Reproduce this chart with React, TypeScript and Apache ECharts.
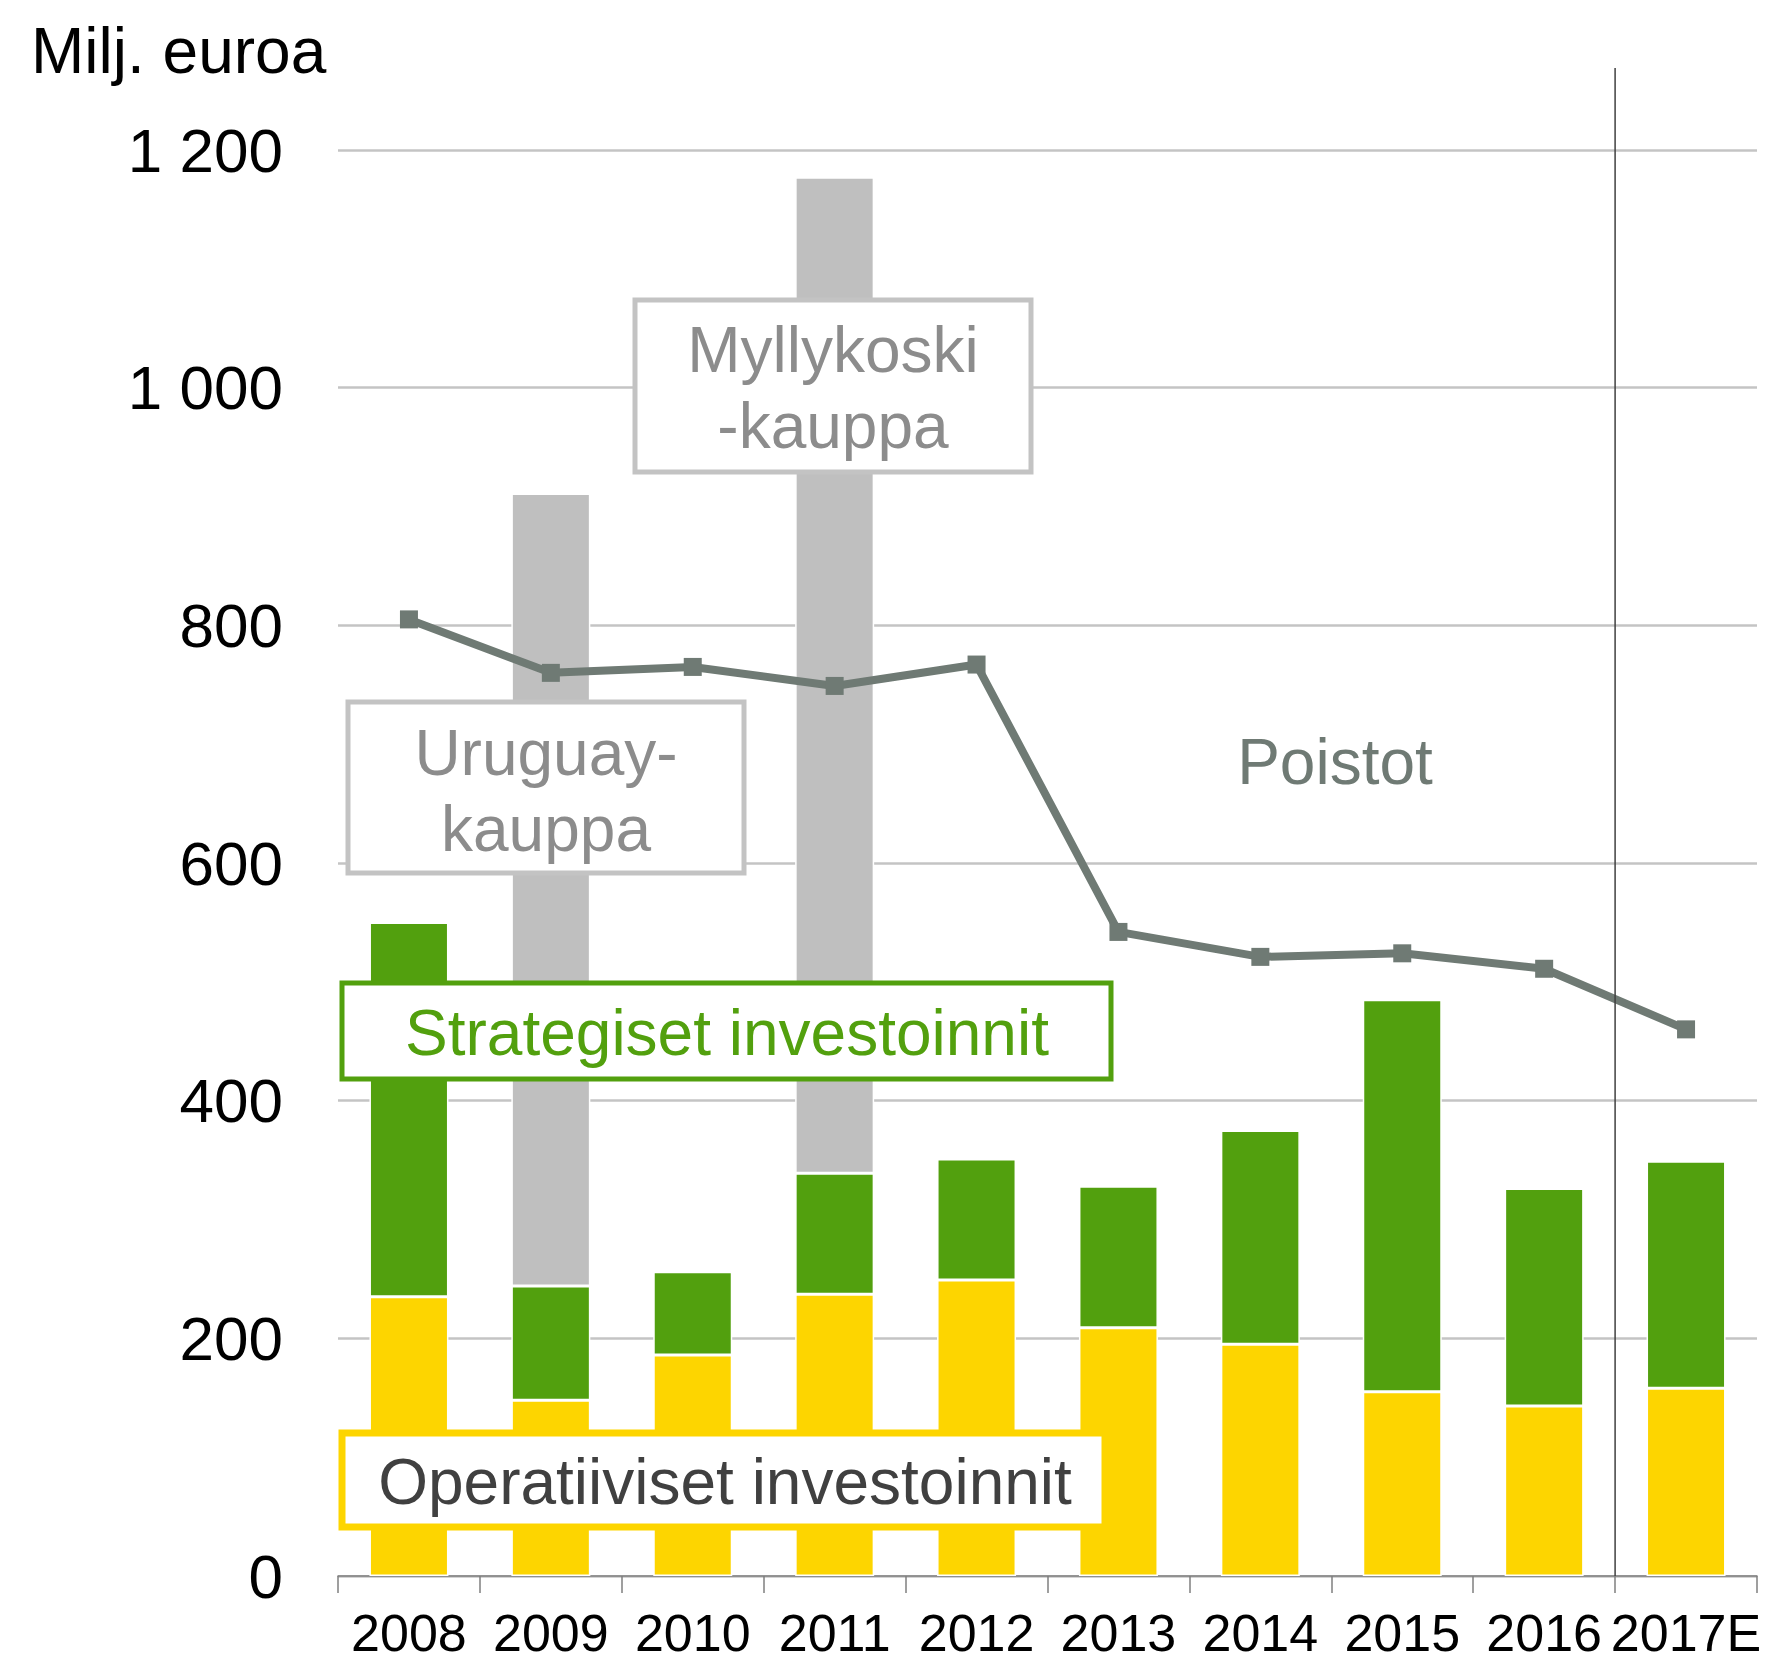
import React, { useEffect, useRef } from "react";
import * as echarts from "echarts";

const categories = ["2008", "2009", "2010", "2011", "2012", "2013", "2014", "2015", "2016", "2017E"];
const operatiiviset = [235, 148, 186, 237, 249, 209, 195, 155, 143, 158];
const strategiset = [315, 96, 70, 102, 102, 119, 180, 330, 183, 191];
const yrityskaupat = [null, 667, null, 838, null, null, null, null, null, null];
const poistot = [805, 760, 765, 749, 767, 542, 521, 524, 511, 460];
const yTicks = [0, 200, 400, 600, 800, 1000, 1200];

const FONT = "'Liberation Sans', Arial, sans-serif";

function fmt(v: number): string {
  if (v >= 1000) {
    return `${Math.floor(v / 1000)} ${String(v % 1000).padStart(3, "0")}`;
  }
  return String(v);
}

export default function App() {
  const ref = useRef<HTMLDivElement>(null);
  useEffect(() => {
    document.body.style.margin = "0";
    const chart = echarts.init(ref.current!, null, { renderer: "svg" });
    const option: any = {
      animation: false,
      backgroundColor: "#ffffff",
      textStyle: { fontFamily: FONT },
      grid: { left: 338, right: 12, top: 150, bottom: 86, containLabel: false },
      xAxis: {
        type: "category",
        data: categories,
        boundaryGap: true,
        axisLine: { show: true, lineStyle: { color: "#7f7f7f", width: 1.5 } },
        axisTick: { show: true, length: 17, lineStyle: { color: "#7f7f7f", width: 1.5 } },
        axisLabel: { fontSize: 52, lineHeight: 40, color: "#000", fontFamily: FONT, margin: 37, interval: 0 },
      },
      yAxis: {
        type: "value",
        min: yTicks[0],
        max: yTicks[yTicks.length - 1],
        interval: 200,
        axisLine: { show: false },
        axisTick: { show: false },
        splitLine: { lineStyle: { color: "#c4c4c4", width: 2.5 } },
        axisLabel: { fontSize: 62, color: "#000", fontFamily: FONT, margin: 55, formatter: (v: number) => fmt(v) },
      },
      series: [
        {
          name: "Operatiiviset investoinnit",
          type: "bar",
          stack: "inv",
          data: operatiiviset,
          barWidth: 79,
          itemStyle: { color: "#fdd500", borderColor: "#ffffff", borderWidth: 1.5 },
          z: 2,
        },
        {
          name: "Strategiset investoinnit",
          type: "bar",
          stack: "inv",
          data: strategiset,
          barWidth: 79,
          itemStyle: { color: "#52a00e", borderColor: "#ffffff", borderWidth: 1.5 },
          z: 2,
        },
        {
          name: "Yrityskaupat",
          type: "bar",
          stack: "inv",
          data: yrityskaupat,
          barWidth: 79,
          itemStyle: { color: "#bfbfbf", borderColor: "#ffffff", borderWidth: 1.5 },
          z: 2,
        },
        {
          name: "Poistot",
          type: "line",
          data: poistot,
          symbol: "rect",
          symbolSize: 18,
          lineStyle: { color: "#6f7a74", width: 8 },
          itemStyle: { color: "#6f7a74" },
          z: 5,
        },
      ],
    };
    chart.setOption(option);

    const p8 = chart.convertToPixel({ xAxisIndex: 0 }, categories[8]) as number;
    const p9 = chart.convertToPixel({ xAxisIndex: 0 }, categories[9]) as number;
    const sepX = (p8 + p9) / 2;
    const y0 = chart.convertToPixel({ yAxisIndex: 0 }, 0) as number;

    const box = (x: number, y: number, w: number, h: number, stroke: string, lw: number) => ({
      type: "rect",
      shape: { x, y, width: w, height: h },
      style: { fill: "#ffffff", stroke, lineWidth: lw },
      z: 100,
    });
    const txt = (x: number, y: number, text: string, color: string, lh = 76) => ({
      type: "text",
      x,
      y,
      style: {
        text,
        fill: color,
        font: `64px ${FONT}`,
        align: "center",
        verticalAlign: "middle",
        lineHeight: lh,
      },
      z: 101,
    });

    chart.setOption({
      graphic: [
        { type: "line", shape: { x1: sepX, y1: 68, x2: sepX, y2: y0 }, style: { stroke: "#404040", lineWidth: 1.5 }, z: 50 },
        { type: "text", x: 31, y: 51, style: { text: "Milj. euroa", fill: "#000", font: `64px ${FONT}`, align: "left", verticalAlign: "middle" }, z: 101 },
        box(635, 300, 396, 172, "#c3c3c3", 5),
        txt(833, 388, "Myllykoski\n-kauppa", "#8c8c8c"),
        box(348, 702, 396, 171, "#c3c3c3", 5),
        txt(546, 791, "Uruguay-\nkauppa", "#8c8c8c"),
        box(342, 983, 769, 96, "#52a00e", 5),
        txt(727, 1033, "Strategiset investoinnit", "#52a00e"),
        box(342, 1433, 763, 94, "#fdd500", 7),
        txt(725, 1482, "Operatiiviset investoinnit", "#404040"),
        txt(1335, 762, "Poistot", "#6f7a74"),
      ],
    });

    return () => chart.dispose();
  }, []);
  return <div ref={ref} style={{ width: 1769, height: 1662 }} />;
}
